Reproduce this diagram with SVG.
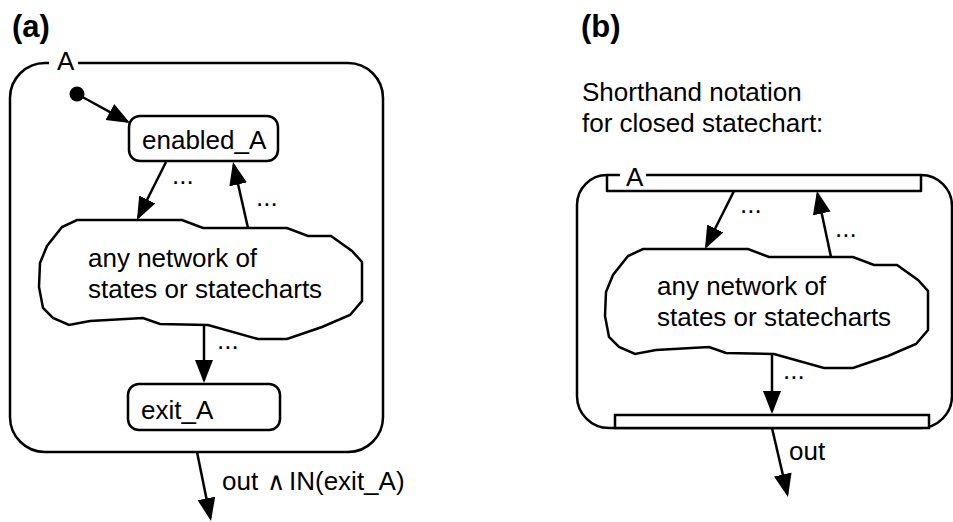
<svg xmlns="http://www.w3.org/2000/svg" width="953" height="522" viewBox="0 0 953 522">
  <style>
    .ln { fill: none; stroke: #000; stroke-width: 2.5; stroke-linejoin: round; }
    .box { fill: #fff; stroke: #000; stroke-width: 2.5; }
    .arr { fill: none; stroke: #000; stroke-width: 2.5; marker-end: url(#head); }
    .t { font-family: "Liberation Sans", Arial, sans-serif; font-size: 26px; fill: #000; }
    .lbl { font-family: "Liberation Sans", Arial, sans-serif; font-size: 26px; fill: #000; }
    .hd { font-family: "Liberation Sans", Arial, sans-serif; font-size: 31px; font-weight: bold; fill: #000; }
  </style>
  <defs>
    <marker id="head" markerUnits="userSpaceOnUse" orient="auto" markerWidth="24" markerHeight="20" refX="20" refY="9" viewBox="0 0 24 20">
      <path d="M0,0 L23,9 L0,18 Z" fill="#000"/>
    </marker>
    <!-- irregular outline used for "any network of states" -->
    <path id="cloud" d="M77,220 L182,220 L203,228 L287,228 L308,236 L331,236 L352,251 L362,262 L362,301 L350,315 L322,327 L287,339 L258,339 L208,325 L160,324 L143,318 L90,321 L69,325 L53,318 L43,308 L39,287 L40,263 L47,246 L62,227 Z"/>
  </defs>
  <rect width="953" height="522" fill="#fff"/>

  <!-- panel (a) -->
  <text class="hd" x="12" y="37">(a)</text>

  <g id="stateA">
    <path class="ln" d="M49,63 L45,63 A35,35 0 0 0 10,98 L10,417 A35,35 0 0 0 45,452 L348,452 A35,35 0 0 0 383,417 L383,98 A35,35 0 0 0 348,63 L78,63"/>
    <text class="t" x="57" y="70">A</text>
  </g>

  <g id="initialA">
    <circle cx="77" cy="94" r="7.5" fill="#000"/>
  </g>

  <g id="enabledA">
    <rect class="box" x="129" y="116" width="149" height="45" rx="11"/>
    <text class="t" x="142" y="149">enabled_A</text>
  </g>

  <g id="networkA">
    <use href="#cloud" class="box"/>
    <text class="t" x="88" y="267">any network of</text>
    <text class="t" x="88" y="298">states or statecharts</text>
  </g>

  <g id="exitA">
    <rect class="box" x="128" y="384" width="152" height="46" rx="11"/>
    <text class="t" x="141" y="419">exit_A</text>
  </g>

  <g id="connectorsA">
    <line class="arr" x1="77" y1="94" x2="127.4" y2="121.6"/>
    <line class="arr" x1="166" y1="162" x2="138.3" y2="217.3"/>
    <line class="arr" x1="248" y1="228" x2="233.7" y2="164.9"/>
    <line class="arr" x1="204" y1="326" x2="204" y2="380"/>
    <line class="arr" x1="197" y1="452" x2="210.4" y2="518"/>
    <text class="lbl" x="172" y="184">...</text>
    <text class="lbl" x="256" y="206">...</text>
    <text class="lbl" x="217" y="349">...</text>
    <text class="lbl" x="222" y="490" font-size="25">out</text>
    <text x="276" y="490" text-anchor="middle" font-family="DejaVu Sans, sans-serif" font-size="25" font-weight="300">∧</text>
    <text class="lbl" x="289" y="490" font-size="25">IN(exit_A)</text>
  </g>

  <!-- panel (b) -->
  <text class="hd" x="581" y="37">(b)</text>
  <text class="t" x="582" y="101">Shorthand notation</text>
  <text class="t" x="582" y="132">for closed statechart:</text>

  <g id="stateB">
    <path class="ln" d="M607,175 A30,30 0 0 0 577,205 L577,396 A32,32 0 0 0 609,428 L920,428 A32,32 0 0 0 952,396 L952,206 A31,31 0 0 0 921,175"/>
    <path class="ln" d="M620,175 L607,175 L607,191 L921,191 L921,175 L646,175"/>
    <rect class="box" x="615" y="415" width="314" height="13"/>
    <text class="t" x="626" y="186" font-size="24">A</text>
  </g>

  <g id="networkB">
    <use href="#cloud" class="box" transform="translate(566,29)"/>
    <text class="t" x="657" y="295">any network of</text>
    <text class="t" x="657" y="326">states or statecharts</text>
  </g>

  <g id="connectorsB">
    <line class="arr" x1="734" y1="191" x2="706.3" y2="246.3"/>
    <line class="arr" x1="831" y1="257" x2="817.6" y2="193.9"/>
    <line class="arr" x1="772" y1="355" x2="772" y2="411"/>
    <line class="arr" x1="772" y1="428" x2="787.3" y2="494"/>
    <text class="lbl" x="740" y="213">...</text>
    <text class="lbl" x="835" y="237">...</text>
    <text class="lbl" x="783" y="379">...</text>
    <text class="lbl" x="789" y="460">out</text>
  </g>
</svg>
